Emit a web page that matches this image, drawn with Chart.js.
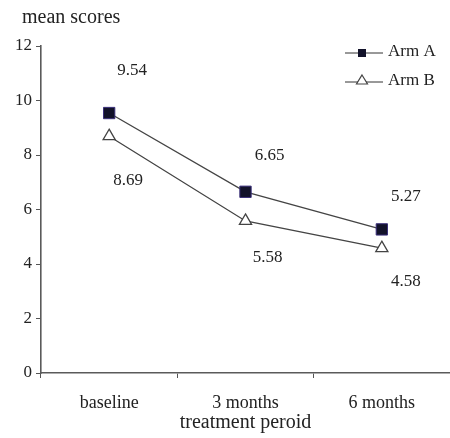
<!DOCTYPE html>
<html>
<head>
<meta charset="utf-8">
<script src="https://cdn.jsdelivr.net/npm/chart.js@4/dist/chart.umd.min.js"></script>
<style>
  html, body { margin: 0; padding: 0; background: #fff; }
  #wrap { width: 450px; height: 438px; }
</style>
</head>
<body>
<div id="wrap"><canvas id="scoreChart" width="450" height="438"></canvas></div>
<script>
const periods = ['baseline', '3 months', '6 months'];
const armA = [9.54, 6.65, 5.27];
const armB = [8.69, 5.58, 4.58];
const yTicks = [0, 2, 4, 6, 8, 10, 12];

const serif = "'Liberation Serif', 'Times New Roman', serif";

// value labels: offsets in px relative to each point
const labelOffsetsA = [[23, -43], [24, -36], [24, -33]];
const labelOffsetsB = [[19, 44], [22, 37], [24, 33]];

const extrasPlugin = {
  id: 'extras',
  afterDraw(chart) {
    const ctx = chart.ctx;
    ctx.save();
    ctx.fillStyle = '#222';
    ctx.font = '20px ' + serif;
    ctx.textAlign = 'left';
    ctx.textBaseline = 'middle';
    ctx.fillText('mean scores', 22, 18);

    // data labels
    ctx.font = '17px ' + serif;
    ctx.textAlign = 'center';
    [[0, labelOffsetsA], [1, labelOffsetsB]].forEach(([di, offs]) => {
      const meta = chart.getDatasetMeta(di);
      const vals = chart.data.datasets[di].data;
      meta.data.forEach((pt, i) => {
        ctx.fillText(vals[i].toFixed(2), pt.x + offs[i][0], pt.y + offs[i][1]);
      });
    });

    // legend
    const items = chart.data.datasets;
    ctx.font = '17px ' + serif;
    ctx.textAlign = 'left';
    items.forEach((ds, i) => {
      const y = 53 + i * 29;
      ctx.strokeStyle = '#333';
      ctx.lineWidth = 1;
      ctx.beginPath();
      ctx.moveTo(345, y);
      ctx.lineTo(383, y);
      ctx.stroke();
      ctx.fillStyle = ds.pointBackgroundColor;
      ctx.strokeStyle = ds.pointBorderColor;
      if (ds.pointStyle === 'rect') {
        ctx.fillRect(358, y - 4, 8, 8);
      } else {
        ctx.lineWidth = 1.2;
        ctx.beginPath();
        ctx.moveTo(362, y - 7);
        ctx.lineTo(367.5, y + 2);
        ctx.lineTo(356.5, y + 2);
        ctx.closePath();
        ctx.fill();
        ctx.stroke();
      }
      ctx.fillStyle = '#222';
      ctx.fillText(ds.label, 388, y - 1);
    });
    ctx.restore();
  }
};

new Chart(document.getElementById('scoreChart'), {
  type: 'line',
  data: {
    labels: periods,
    datasets: [
      {
        label: 'Arm A',
        data: armA,
        borderColor: '#444',
        borderWidth: 1.3,
        pointStyle: 'rect',
        pointRadius: 8,
        pointBackgroundColor: '#12122a',
        pointBorderColor: '#3a2f7a',
        pointBorderWidth: 1
      },
      {
        label: 'Arm B',
        data: armB,
        borderColor: '#444',
        borderWidth: 1.3,
        pointStyle: 'triangle',
        pointRadius: 7,
        pointBackgroundColor: '#fff',
        pointBorderColor: '#444',
        pointBorderWidth: 1.3
      }
    ]
  },
  options: {
    responsive: false,
    animation: false,
    layout: { autoPadding: false, padding: { top: 46, right: 0, left: 11, bottom: 5 } },
    plugins: { legend: { display: false }, tooltip: { enabled: false } },
    scales: {
      x: {
        offset: true,
        grid: { offset: true, drawOnChartArea: false, tickLength: 5, color: '#555' },
        border: { color: '#5a5a5a', width: 1.6 },
        ticks: { color: '#222', font: { family: serif, size: 18, lineHeight: 1 }, padding: 16 },
        title: { display: true, text: 'treatment peroid', color: '#222', font: { family: serif, size: 20, lineHeight: 1 }, padding: { top: -15, bottom: 0 } }
      },
      y: {
        min: 0,
        max: 12,
        afterBuildTicks(axis) { axis.ticks = yTicks.map(v => ({ value: v })); },
        grid: { drawOnChartArea: false, tickLength: 5, color: '#555' },
        border: { color: '#5a5a5a', width: 1.6 },
        ticks: { color: '#222', font: { family: serif, size: 17 }, padding: 4 }
      }
    }
  },
  plugins: [extrasPlugin]
});
</script>
</body>
</html>
